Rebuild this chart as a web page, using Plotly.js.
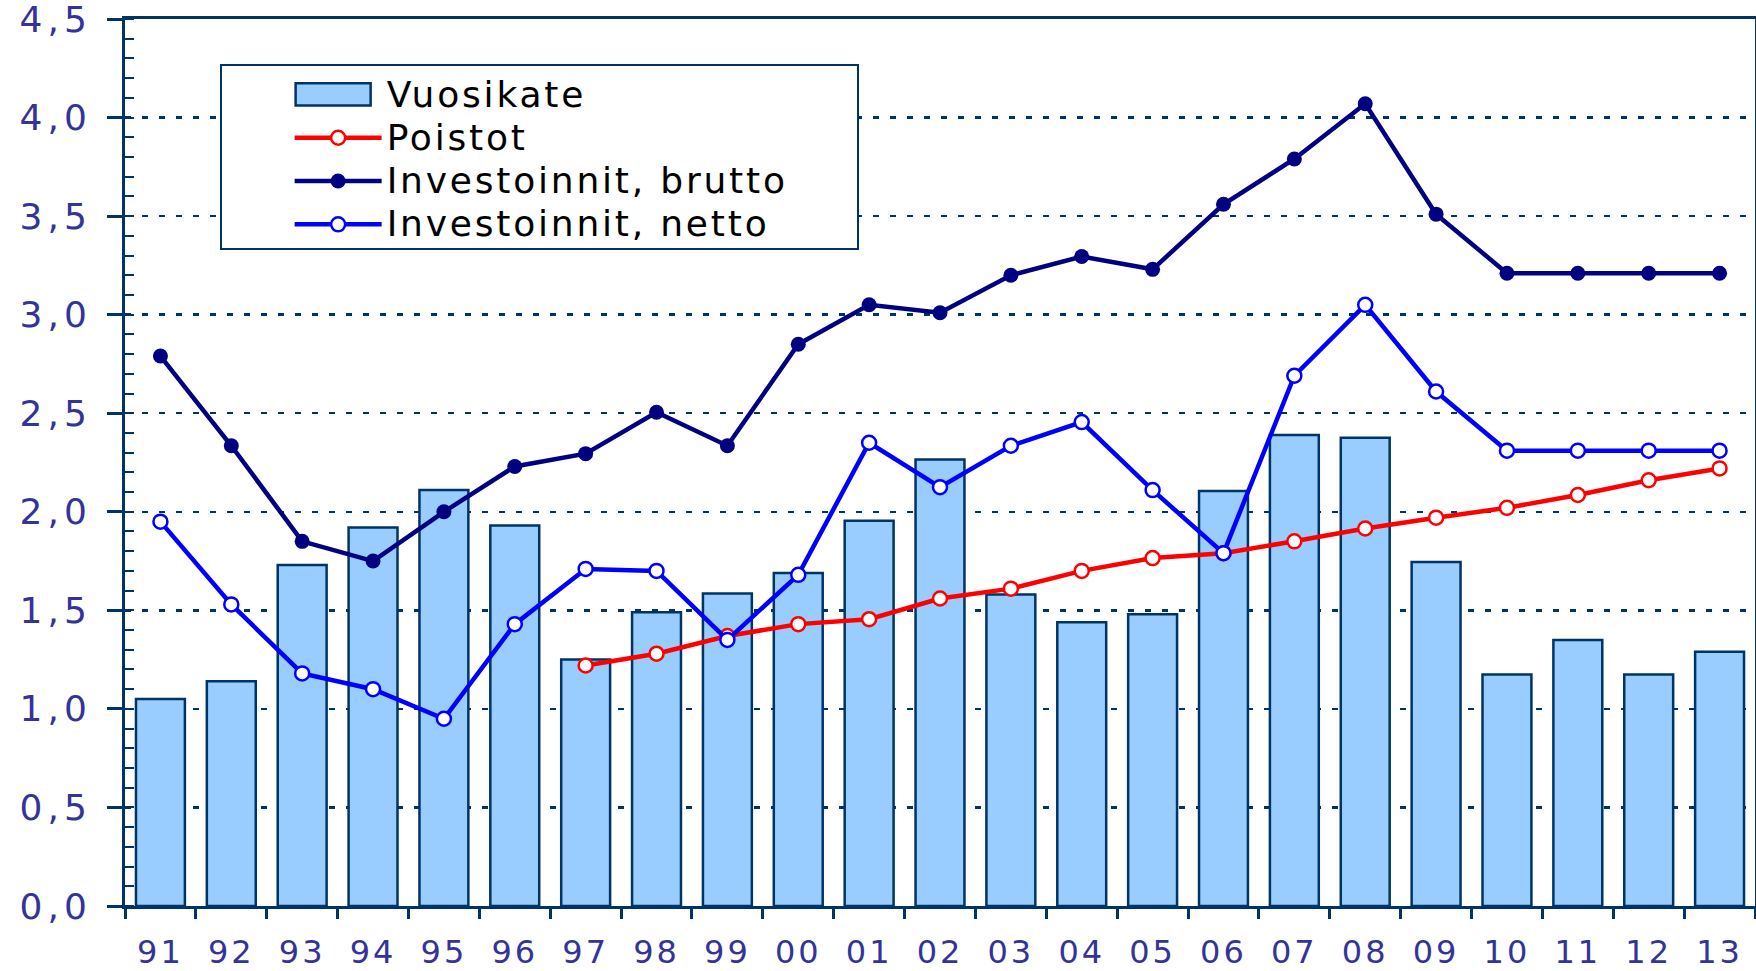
<!DOCTYPE html>
<html><head><meta charset="utf-8">
<script src="https://cdn.plot.ly/plotly-3.0.1.min.js"></script>
<style>
html,body{margin:0;padding:0;background:#fff}
#chart{width:1756px;height:971px}
#chart .xtick text{letter-spacing:3px}
#chart .ytick text{letter-spacing:5px}
#chart .legendtext{letter-spacing:2.8px;font-size:36px !important}
#chart .legend .scrollbox{clip-path:none !important}
</style>
</head><body><div id="chart"></div>
<script>
const years = ['91','92','93','94','95','96','97','98','99','00','01','02','03','04','05','06','07','08','09','10','11','12','13'];
const vuosikate = [1.05,1.14,1.73,1.92,2.11,1.93,1.25,1.49,1.585,1.69,1.955,2.265,1.58,1.44,1.48,2.105,2.39,2.375,1.745,1.175,1.35,1.175,1.29];
const poistotYears = ['97','98','99','00','01','02','03','04','05','06','07','08','09','10','11','12','13'];
const poistot = [1.22,1.28,1.37,1.43,1.455,1.56,1.61,1.70,1.765,1.79,1.85,1.915,1.97,2.02,2.085,2.16,2.22];
const brutto = [2.79,2.335,1.85,1.75,2.0,2.23,2.295,2.505,2.335,2.85,3.05,3.01,3.2,3.295,3.23,3.56,3.79,4.07,3.51,3.21,3.21,3.21,3.21];
const netto = [1.95,1.53,1.18,1.10,0.95,1.43,1.71,1.70,1.35,1.68,2.35,2.125,2.335,2.455,2.11,1.79,2.69,3.05,2.61,2.31,2.31,2.31,2.31];
const names = ['Vuosikate','Poistot','Investoinnit, brutto','Investoinnit, netto'];

const navy = '#003366';
const traces = [
  {type:'bar', x:years, y:vuosikate, name:names[0],
   marker:{color:'#99CCFF', line:{color:navy, width:2.5}}},
  {type:'scatter', mode:'lines+markers', x:poistotYears, y:poistot, name:names[1],
   line:{color:'#FF0000', width:4.5},
   marker:{symbol:'circle', size:14, color:'#FFFFFF', line:{color:'#FF0000', width:2.5}}},
  {type:'scatter', mode:'lines+markers', x:years, y:brutto, name:names[2],
   line:{color:'#000080', width:4.5},
   marker:{symbol:'circle', size:15, color:'#000080'}},
  {type:'scatter', mode:'lines+markers', x:years, y:netto, name:names[3],
   line:{color:'#0000FF', width:4.5},
   marker:{symbol:'circle', size:14, color:'#FFFFFF', line:{color:'#0000FF', width:2.5}}}
];

const layout = {
  width:1756, height:971,
  margin:{l:125, r:1, t:19, b:65},
  separators:', ',
  paper_bgcolor:'#ffffff', plot_bgcolor:'#ffffff',
  font:{family:'DejaVu Sans', color:'#333399'},
  bargap:0.31,
  showlegend:true,
  xaxis:{type:'category', range:[-0.5,22.5], tickson:'boundaries', ticks:'outside', ticklen:10, tickwidth:3,
    tickcolor:navy, showline:true, linecolor:navy, linewidth:3, mirror:true, showgrid:false,
    tickfont:{size:32, color:'#333399'}, ticklabelstandoff:16, ticklabeloverflow:'allow', fixedrange:true},
  yaxis:{range:[0,4.5], tick0:0, dtick:0.5, tickformat:'.1f', ticks:'outside', ticklen:15, tickwidth:3,
    tickcolor:navy, showline:true, linecolor:navy, linewidth:3, mirror:true,
    showgrid:true, gridcolor:navy, gridwidth:2.5, griddash:'6px,11px', zeroline:false,
    tickfont:{size:36, color:'#333399'}, ticklabelstandoff:8, ticklabeloverflow:'allow',
    minor:{dtick:0.1, ticks:'inside', ticklen:9, tickwidth:2, tickcolor:navy, showgrid:false}},
  legend:{x:0.101, y:0.945, xanchor:'left', yanchor:'top', bgcolor:'rgba(0,0,0,0)', borderwidth:0,
    itemwidth:87, font:{family:'DejaVu Sans', size:31, color:'#000000'}, tracegroupgap:0},
  shapes:[{type:'rect', xref:'paper', yref:'paper', x0:0.0589, x1:0.4497, y0:0.7407, y1:0.948,
    layer:'above', fillcolor:'#ffffff', line:{color:navy, width:2}}]
};

Plotly.newPlot('chart', traces, layout, {displayModeBar:false, staticPlot:true}).then(function(gd){
  // widen the bar legend swatch into a wide rectangle like the reference
  const items = gd.querySelectorAll('.legend .traces');
  if (items.length) {
    items[0].querySelectorAll('.legendpoints path').forEach(function(p){
      const t = p.getAttribute('transform') || '';
      p.setAttribute('transform', 'translate(-5,0) ' + t + ' scale(6.25,1.85)');
      p.style.vectorEffect = 'non-scaling-stroke';
    });
  }
});
</script>
</body></html>
